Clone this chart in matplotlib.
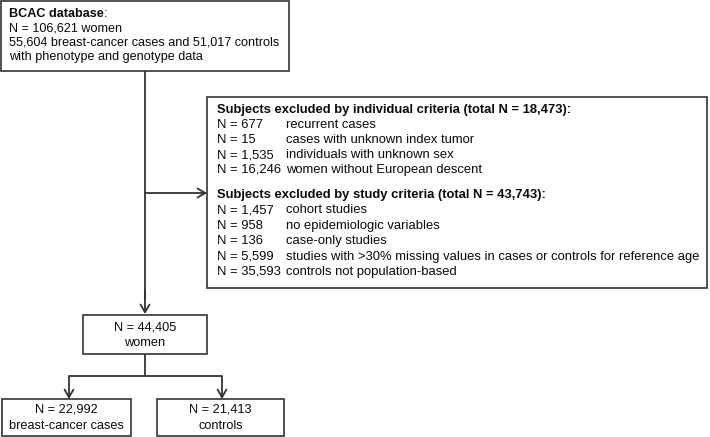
import matplotlib
matplotlib.use("Agg")
import matplotlib.pyplot as plt
from matplotlib.patches import Rectangle

plt.rcParams['font.family'] = ['Liberation Sans', 'DejaVu Sans']

# ---- data ----
db_title = "BCAC database"
db_lines = ["N = 106,621 women",
            "55,604 breast-cancer cases and 51,017 controls",
            "with phenotype and genotype data"]

indiv_header = "Subjects excluded by individual criteria (total N = 18,473):"
indiv_counts = ["677", "15", "1,535", "16,246"]
indiv_labels = ["recurrent cases", "cases with unknown index tumor",
                "individuals with unknown sex", "women without European descent"]

study_header = "Subjects excluded by study criteria (total N = 43,743):"
study_counts = ["1,457", "958", "136", "5,599", "35,593"]
study_labels = ["cohort studies", "no epidemiologic variables", "case-only studies",
                "studies with >30% missing values in cases or controls for reference age",
                "controls not population-based"]

final_count = "44,405"
final_label = "women"
group_counts = ["22,992", "21,413"]
group_labels = ["breast-cancer cases", "controls"]

# ---- layout ----
W, H = 710, 437
fig = plt.figure(figsize=(W / 100, H / 100), dpi=100)
ax = fig.add_axes([0, 0, 1, 1])
ax.set_xlim(0, W)
ax.set_ylim(H, 0)
ax.axis('off')

EC = '#333333'
LW = 1.2
FS_TOP = 9.1
FS_EX = 9.4
FS_BOT = 9.2
TC = '#0a0a0a'

def box(x0, y0, x1, y1):
    ax.add_patch(Rectangle((x0, y0), x1 - x0, y1 - y0, facecolor='white',
                           edgecolor=EC, lw=LW, zorder=2))

def arrow(x0, y0, x1, y1):
    ax.annotate('', xy=(x1, y1), xytext=(x0, y0),
                arrowprops=dict(arrowstyle='->,head_length=0.55,head_width=0.32',
                                color=EC, lw=1.3, shrinkA=0, shrinkB=0,
                                mutation_scale=10), zorder=1)

def line(xs, ys):
    ax.plot(xs, ys, color=EC, lw=1.3, zorder=1, solid_capstyle='butt')

# top box
box(1, 1, 289, 71)
t = ax.text(9, 14, db_title, fontsize=FS_TOP, fontweight='bold', va='center', color=TC, zorder=3)
ax.annotate(':', xy=(1, 0.5), xycoords=t, va='center', ha='left', fontsize=FS_TOP, color=TC, zorder=3)
for i, s in enumerate(db_lines):
    ax.text(9, 28.5 + 14.3 * i, s, fontsize=FS_TOP, va='center', color=TC, zorder=3)

# main vertical line and branch
line([145, 145], [71, 300])
arrow(145, 290, 145, 314)
arrow(145, 193, 207, 193)

# exclusion box
box(207, 97, 707, 288)
y = 110
ax.text(217, y, indiv_header, fontsize=FS_EX, fontweight='bold', va='center', color=TC, zorder=3)
for c, l in zip(indiv_counts, indiv_labels):
    y += 15
    ax.text(217, y, "N = " + c, fontsize=FS_EX, va='center', color=TC, zorder=3)
    ax.text(286, y, l, fontsize=FS_EX, va='center', color=TC, zorder=3)
y = 195
ax.text(217, y, study_header, fontsize=FS_EX, fontweight='bold', va='center', color=TC, zorder=3)
for c, l in zip(study_counts, study_labels):
    y += 15.4
    ax.text(217, y, "N = " + c, fontsize=FS_EX, va='center', color=TC, zorder=3)
    ax.text(286, y, l, fontsize=FS_EX, va='center', color=TC, zorder=3)

# middle box
box(83, 315, 207, 354)
ax.text(145, 328, "N = " + final_count, fontsize=FS_BOT, ha='center', va='center', color=TC, zorder=3)
ax.text(145, 343, final_label, fontsize=FS_BOT, ha='center', va='center', color=TC, zorder=3)

# split
line([145, 145], [354, 376])
line([69, 222], [376, 376])
arrow(69, 376, 69, 399)
arrow(222, 376, 222, 399)

# bottom boxes
for (x0, x1), c, l in zip([(2, 131), (157, 284)], group_counts, group_labels):
    box(x0, 399, x1, 436)
    xc = (x0 + x1) / 2
    ax.text(xc, 410, "N = " + c, fontsize=FS_BOT, ha='center', va='center', color=TC, zorder=3)
    ax.text(xc, 426, l, fontsize=FS_BOT, ha='center', va='center', color=TC, zorder=3)

fig.savefig('out.png', dpi=100)
